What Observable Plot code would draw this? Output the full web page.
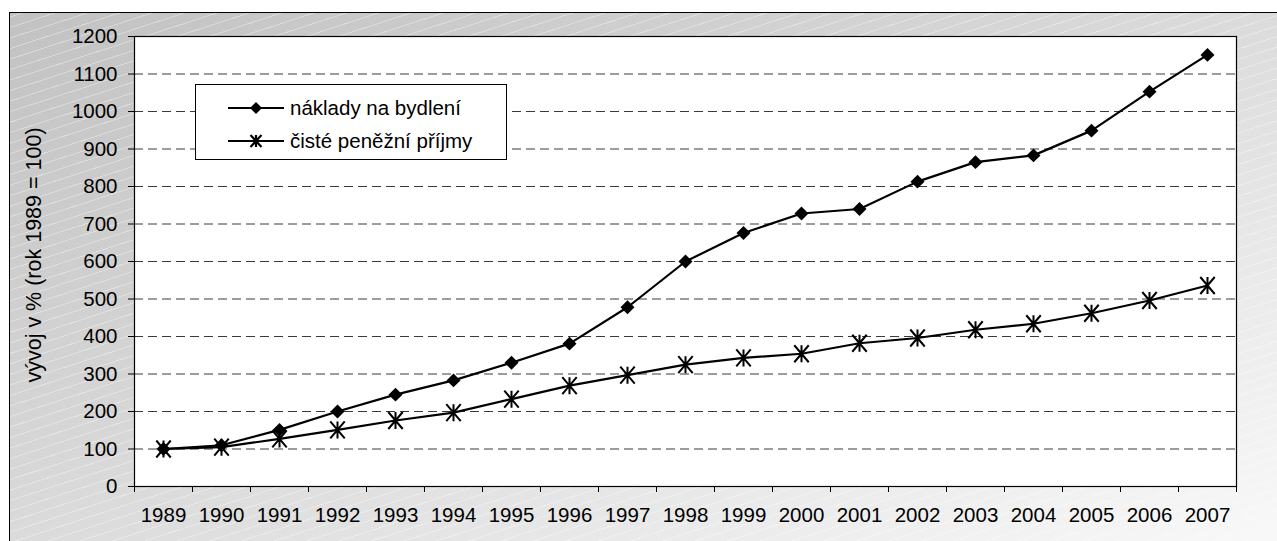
<!DOCTYPE html>
<html>
<head>
<meta charset="utf-8">
<script src="https://cdn.jsdelivr.net/npm/d3@7"></script>
<script src="https://cdn.jsdelivr.net/npm/@observablehq/plot@0.6"></script>
<style>
html, body { margin: 0; padding: 0; background: #fff; width: 1277px; height: 541px; overflow: hidden; }
#wrap { position: relative; width: 1277px; height: 541px; font-family: "Liberation Sans", Arial, sans-serif; color: #000; }
#bg {
  position: absolute; left: 9px; top: 12px; width: 1300px; height: 560px;
  border-left: 1px solid #000; border-top: 1px solid #000;
  background:
    repeating-linear-gradient(-18deg, rgba(255,255,255,0.35) 0px, rgba(255,255,255,0.35) 1px, rgba(255,255,255,0) 1px, rgba(255,255,255,0) 10px),
    linear-gradient(to bottom right, #c2c2c2 0%, #d6d6d6 40%, #ececec 75%, #fbfbfb 100%);
}
#chart { position: absolute; left: 0; top: 0; }
#ytitle {
  position: absolute; left: 35px; top: 255px; transform: translate(-50%, -50%) rotate(-90deg);
  white-space: nowrap; font-size: 21.5px; line-height: 1;
}
#legend {
  position: absolute; left: 195px; top: 84px; width: 312px; height: 76px;
  border: 1px solid #000; background: #fff; box-sizing: border-box;
}
.row { position: absolute; left: 32px; height: 24px; display: flex; align-items: center; font-size: 20.5px; white-space: nowrap; }
.row svg { margin-right: 6px; }
</style>
</head>
<body>
<div id="wrap">
  <div id="bg"></div>
  <div id="chart"></div>
  <div id="ytitle"></div>
  <div id="legend"></div>
</div>
<script>
// ---- data ----
const years = [1989, 1990, 1991, 1992, 1993, 1994, 1995, 1996, 1997, 1998, 1999, 2000, 2001, 2002, 2003, 2004, 2005, 2006, 2007];
const housingCosts = [100, 110, 151, 200, 245, 283, 330, 381, 478, 600, 676, 728, 740, 813, 865, 883, 949, 1053, 1151];
const netIncome = [100, 105, 127, 151, 176, 197, 233, 269, 297, 325, 343, 354, 382, 396, 418, 434, 462, 496, 536];
const seriesNames = ["náklady na bydlení", "čisté peněžní příjmy"];
const yTicks = [0, 100, 200, 300, 400, 500, 600, 700, 800, 900, 1000, 1100, 1200];
const yTitle = "vývoj v % (rok 1989 = 100)";

// Excel-style star marker: X plus vertical bar
const star = {
  draw(context, size) {
    const r = Math.sqrt(size / Math.PI);
    context.moveTo(-r * 0.85, -r);
    context.lineTo(r * 0.85, r);
    context.moveTo(-r * 0.85, r);
    context.lineTo(r * 0.85, -r);
    context.moveTo(0, -r);
    context.lineTo(0, r);
  }
};

const data = [
  ...years.map((y, i) => ({year: y, value: housingCosts[i], series: seriesNames[0]})),
  ...years.map((y, i) => ({year: y, value: netIncome[i], series: seriesNames[1]}))
];
const boundaries = [...years.map(y => y - 0.5), years[years.length - 1] + 0.5];

const chart = Plot.plot({
  width: 1277,
  height: 541,
  marginLeft: 134,
  marginRight: 41,
  marginTop: 36,
  marginBottom: 55,
  style: { background: "transparent", fontFamily: "'Liberation Sans', Arial, sans-serif", fontSize: "20.5px", color: "#000", overflow: "visible" },
  x: { domain: [boundaries[0], boundaries[boundaries.length - 1]] },
  y: { domain: [0, 1200] },
  marks: [
    Plot.frame({ fill: "white", stroke: "none" }),
    Plot.gridY(yTicks.filter(v => v > 0 && v < 1200), { stroke: "#3a3a3a", strokeOpacity: 1, strokeWidth: 1, strokeDasharray: "9,5" }),
    Plot.frame({ stroke: "#000", strokeWidth: 1.2 }),
    Plot.axisY(yTicks, { tickSize: 6, tickPadding: 11, tickFormat: d => String(d), label: null, stroke: "#000" }),
    Plot.axisX(boundaries, { tickSize: 6, tickFormat: () => "", label: null, stroke: "#000" }),
    Plot.axisX(years, { tickSize: 0, tickPadding: 21, tickFormat: d => String(d), label: null }),
    Plot.line(data, { x: "year", y: "value", z: "series", stroke: "#000", strokeWidth: 2.2 }),
    Plot.dot(data.filter(d => d.series === seriesNames[0]), { x: "year", y: "value", symbol: "diamond2", fill: "#000", stroke: "none", r: 6.3 }),
    Plot.dot(data.filter(d => d.series === seriesNames[1]), { x: "year", y: "value", symbol: star, fill: "none", stroke: "#000", strokeWidth: 2, r: 8.5 })
  ]
});
document.getElementById("chart").appendChild(chart);
document.getElementById("ytitle").textContent = yTitle;

// legend
const legend = document.getElementById("legend");
function swatch(kind) {
  const ns = "http://www.w3.org/2000/svg";
  const svg = document.createElementNS(ns, "svg");
  svg.setAttribute("width", "56");
  svg.setAttribute("height", "20");
  const line = document.createElementNS(ns, "line");
  line.setAttribute("x1", "0"); line.setAttribute("x2", "56");
  line.setAttribute("y1", "10"); line.setAttribute("y2", "10");
  line.setAttribute("stroke", "#000"); line.setAttribute("stroke-width", "2.2");
  svg.appendChild(line);
  const p = document.createElementNS(ns, "path");
  if (kind === 0) {
    p.setAttribute("d", "M28,4 L34,10 L28,16 L22,10 Z");
    p.setAttribute("fill", "#000");
  } else {
    p.setAttribute("d", "M22.5,4 L33.5,16 M22.5,16 L33.5,4 M28,4 L28,16");
    p.setAttribute("stroke", "#000"); p.setAttribute("stroke-width", "2.2"); p.setAttribute("fill", "none");
  }
  svg.appendChild(p);
  return svg;
}
seriesNames.forEach((name, i) => {
  const row = document.createElement("div");
  row.className = "row";
  row.style.top = (i === 0 ? 11 : 44) + "px";
  row.appendChild(swatch(i));
  const span = document.createElement("span");
  span.textContent = name;
  row.appendChild(span);
  legend.appendChild(row);
});
</script>
</body>
</html>
